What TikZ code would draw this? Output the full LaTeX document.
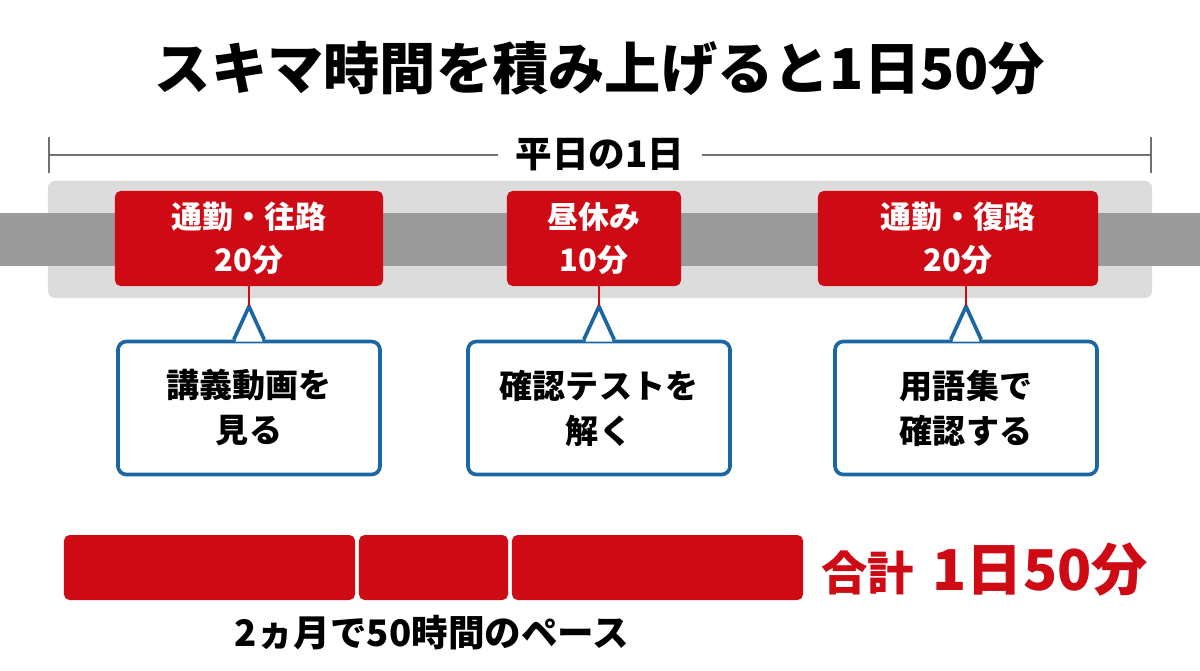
\documentclass[tikz,border=0pt]{standalone}
\usepackage{fontspec}
\setmainfont{Noto Sans CJK JP}
\usepackage{tikz}
\usetikzlibrary{positioning,arrows.meta,calc}
\definecolor{slotred}{HTML}{CE0A14}
\definecolor{memoblue}{HTML}{1C66A3}
\definecolor{bandgrey}{HTML}{DCDCDC}
\definecolor{stripgrey}{HTML}{9B9B9B}
\definecolor{dimgrey}{HTML}{707070}

\begin{document}
\begin{tikzpicture}[
  x=0.025cm, y=-0.025cm,
  font=\bfseries,
  slot/.style={fill=slotred, text=white, rounded corners=4pt, align=center,
               minimum height=2.375cm, inner sep=0pt,
               font=\fontsize{22}{31}\selectfont\bfseries},
  memo/.style={draw=memoblue, line width=2.6pt, fill=white, rounded corners=6pt,
               align=center, minimum width=6.55cm, minimum height=3.325cm,
               font=\fontsize{23.5}{32}\selectfont\bfseries},
  bar/.style={fill=slotred, rounded corners=4pt, minimum height=1.625cm, inner sep=0pt},
  dim/.style={dimgrey, line width=1.4pt},
  tick/.style={slotred, line width=2pt},
  ptr/.style={memoblue, line width=2.6pt, line join=miter}
]
\useasboundingbox (0,0) rectangle (1200,670);
% ----- title -----
\node[font=\fontsize{40}{46}\selectfont\bfseries] (title) at (600,68)
  {スキマ時間を積み上げると1日50分};
% ----- span of one weekday -----
\coordinate (dl) at (48,155);
\coordinate (dr) at (1152,155);
\draw[dim, {Bar[width=0.9cm]}-{Bar[width=0.9cm]}] (dl) -- (dr);
\node[fill=white, inner xsep=0.45cm, font=\fontsize{26}{30}\selectfont\bfseries] (day) at (600,155)
  {平日の1日};
% ----- grey band and strip -----
\node[fill=bandgrey, rounded corners=5pt, minimum width=27.6cm, minimum height=2.925cm] (band)
  at (600,239.5) {};
\node[fill=stripgrey, minimum width=30cm, minimum height=1.325cm, inner sep=0pt] (strip)
  at (600,239.5) {};
% ----- time slots -----
\node[slot, minimum width=6.7cm]  (s1) at (249,238.5) {通勤・往路\\20分};
\node[slot, minimum width=4.35cm] (s2) at (594,238.5) {昼休み\\10分};
\node[slot, minimum width=7cm]    (s3) at (958,238.5) {通勤・復路\\20分};
% ----- what to do in each slot -----
\node[memo] (m1) at (249,408) {講義動画を\\見る};
\node[memo] (m2) at (599,408) {確認テストを\\解く};
\node[memo] (m3) at (966,408) {用語集で\\確認する};
\foreach \i in {1,2,3}{
  \coordinate (p\i) at ([yshift=0.83cm]m\i.north);
  \fill[white] ([xshift=-0.34cm,yshift=-1.4pt]m\i.north) -- (p\i) -- ([xshift=0.34cm,yshift=-1.4pt]m\i.north) -- cycle;
  \draw[ptr] ([xshift=-0.38cm]m\i.north) -- (p\i) -- ([xshift=0.38cm]m\i.north);
  \draw[tick] (s\i.south -| p\i) -- (p\i);
}
% ----- daily total -----
\node[bar, minimum width=7.275cm] (b1) at (209.5,567.5) {};
\node[bar, minimum width=3.725cm] (b2) at (433.5,567.5) {};
\node[bar, minimum width=7.275cm] (b3) at (657.5,567.5) {};
\node[anchor=west, text=slotred, inner sep=0pt] (sum) at (821,570)
  {\fontsize{33}{38}\selectfont 合計\hspace{0.4em}\fontsize{40}{46}\selectfont 1日50分};
\node[font=\fontsize{26}{30}\selectfont\bfseries] (pace) at (432,633)
  {2ヵ月で50時間のペース};
\end{tikzpicture}
\end{document}
